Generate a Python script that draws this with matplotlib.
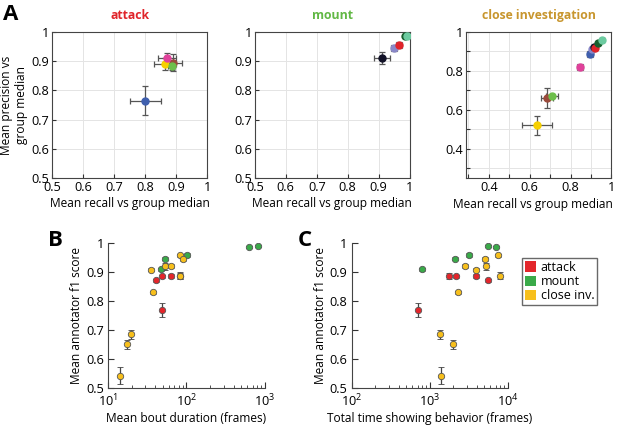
import numpy as np
import matplotlib.pyplot as plt

plt.rcParams['font.family'] = ['Open Sans', 'DejaVu Sans']

# ------------------------------
# Panel A data: recall / precision vs group median (per annotator)
# ------------------------------
ann_colors = ['#3f5fae', '#e0419b', '#f7d000', '#9b4b3c', '#6dbf4b',
              '#121228', '#8a88c8', '#e0242a', '#17602e', '#6ccba0']

atk_rec = [0.80, 0.865, 0.89, 0.885, 0.87]
atk_rec_err = [0.05, 0.035, 0.03, 0.01, 0.03]
atk_prec = [0.765, 0.89, 0.895, 0.885, 0.91]
atk_prec_err = [0.05, 0.02, 0.03, 0.015, 0.018]
atk_col = [0, 2, 3, 4, 1]

mnt_rec = [0.91, 0.95, 0.965, 0.985, 0.99]
mnt_rec_err = [0.025, 0.01, 0.01, 0.005, 0.005]
mnt_prec = [0.91, 0.945, 0.955, 0.985, 0.985]
mnt_prec_err = [0.02, 0.01, 0.01, 0.003, 0.003]
mnt_col = [5, 6, 7, 8, 9]

ci_rec = [0.635, 0.685, 0.71, 0.845, 0.895, 0.905, 0.915, 0.92, 0.935, 0.955]
ci_rec_err = [0.075, 0.03, 0.03, 0.015, 0.015, 0.01, 0.01, 0.01, 0.008, 0.008]
ci_prec = [0.52, 0.66, 0.67, 0.82, 0.885, 0.91, 0.925, 0.92, 0.945, 0.96]
ci_prec_err = [0.05, 0.05, 0.01, 0.015, 0.015, 0.01, 0.01, 0.01, 0.008, 0.008]
ci_col = [2, 3, 4, 1, 0, 6, 5, 7, 8, 9]

# ------------------------------
# Panel B/C data: annotator f1 vs bout duration / total time
# ------------------------------
beh_names = ['attack', 'mount', 'close inv.']
beh_colors = ['#e3262b', '#3aaa49', '#f7bf1c']

atk_f1 = [0.769, 0.872, 0.886, 0.887, 0.887]
atk_f1_err = [0.025, 0.006, 0.006, 0.006, 0.012]
atk_bout = [49, 41, 49, 64, 84]
atk_total = [716, 5650, 2190, 3970, 1770]

mnt_f1 = [0.91, 0.947, 0.96, 0.987, 0.99]
mnt_f1_err = [0.006, 0.006, 0.006, 0.003, 0.003]
mnt_bout = [48, 53.5, 102, 630, 830]
mnt_total = [806, 2090, 3160, 7050, 5500]

ci_f1 = [0.543, 0.651, 0.686, 0.83, 0.909, 0.92, 0.922, 0.888, 0.958, 0.945]
ci_f1_err = [0.03, 0.015, 0.015, 0.006, 0.006, 0.012, 0.006, 0.012, 0.006, 0.006]
ci_bout = [14.1, 17.3, 19.9, 38, 35, 54, 63.6, 82, 84, 90]
ci_total = [1397, 1990, 1350, 2300, 3970, 5250, 2830, 7900, 7600, 5050]

fig = plt.figure(figsize=(6.17, 4.26), dpi=100)

fs_lab = 8.6
fs_tick = 9.2

# ------------------------------
# Panel A
# ------------------------------
pannelli_a = [
    ([0.084, 0.582, 0.252, 0.343], 'attack', '#e0242a',
     atk_rec, atk_rec_err, atk_prec, atk_prec_err, atk_col, (0.5, 1), (0.5, 1)),
    ([0.413, 0.582, 0.251, 0.343], 'mount', '#62b845',
     mnt_rec, mnt_rec_err, mnt_prec, mnt_prec_err, mnt_col, (0.5, 1), (0.5, 1)),
    ([0.755, 0.582, 0.236, 0.343], 'close investigation', '#c8962e',
     ci_rec, ci_rec_err, ci_prec, ci_prec_err, ci_col, (0.287, 1), (0.25, 1)),
]

for i, (pos, titolo, col_tit, rx, rxe, py, pye, cols, xl, yl) in enumerate(pannelli_a):
    ax = fig.add_axes(pos)
    for k in range(len(rx)):
        ax.errorbar(rx[k], py[k], xerr=rxe[k], yerr=pye[k], fmt='o',
                    color=ann_colors[cols[k]], ecolor='#555555', elinewidth=0.9,
                    capsize=2, capthick=0.9, markersize=5, zorder=3)
    ax.set_xlim(xl)
    ax.set_ylim(yl)
    if i < 2:
        ax.set_xticks(np.arange(0.5, 1.01, 0.1))
        ax.set_xticklabels(['0.5', '0.6', '0.7', '0.8', '0.9', '1'])
        ax.set_yticks(np.arange(0.5, 1.01, 0.1))
        ax.set_yticklabels(['0.5', '0.6', '0.7', '0.8', '0.9', '1'])
    else:
        ticks = np.arange(0.3, 1.01, 0.1)
        ax.set_xticks(ticks)
        ax.set_xticklabels(['', '0.4', '', '0.6', '', '0.8', '', '1'])
        ticks_y = np.arange(0.3, 1.01, 0.1)
        ax.set_yticks(ticks_y)
        ax.set_yticklabels(['', '0.4', '', '0.6', '', '0.8', '', '1'])
    ax.grid(True, color='#e4e4e4', linewidth=0.7)
    ax.set_axisbelow(True)
    ax.tick_params(direction='in', length=3, labelsize=fs_tick, color='#333333', pad=2)
    for s in ax.spines.values():
        s.set_color('#444444')
        s.set_linewidth(0.8)
    ax.set_title(titolo, color=col_tit, fontsize=8.8, fontweight='bold', pad=9)
    ax.set_xlabel('Mean recall vs group median', fontsize=fs_lab, labelpad=2)
    if i == 0:
        ax.set_ylabel('Mean precision vs\ngroup median', fontsize=fs_lab, labelpad=2)
    if i == 2:
        ax.xaxis.set_label_coords(0.46, -0.135)

fig.text(0.005, 0.99, 'A', fontsize=16, fontweight='bold', va='top')

# ------------------------------
# Panel B and C
# ------------------------------
gruppi = [
    (atk_f1, atk_f1_err, atk_bout, atk_total),
    (mnt_f1, mnt_f1_err, mnt_bout, mnt_total),
    (ci_f1, ci_f1_err, ci_bout, ci_total),
]

pannelli_bc = [
    ([0.175, 0.089, 0.254, 0.340], 2, (10, 1000), 'Mean bout duration (frames)'),
    ([0.570, 0.089, 0.253, 0.340], 3, (100, 10000), 'Total time showing behavior (frames)'),
]

for pos, idx, xl, xlab in pannelli_bc:
    ax = fig.add_axes(pos)
    for g, (f1, f1e, bout, tot) in enumerate(gruppi):
        xs = bout if idx == 2 else tot
        ax.errorbar(xs, f1, yerr=f1e, fmt='o', color=beh_colors[g],
                    markeredgecolor='#555555', markeredgewidth=0.6,
                    ecolor='#444444', elinewidth=0.9, capsize=2, capthick=0.9,
                    markersize=4.6, zorder=3)
    ax.set_xscale('log')
    ax.set_xlim(xl)
    ax.set_ylim(0.5, 1)
    ax.set_yticks(np.arange(0.5, 1.01, 0.1))
    ax.set_yticklabels(['0.5', '0.6', '0.7', '0.8', '0.9', '1'])
    ax.spines['top'].set_visible(False)
    ax.spines['right'].set_visible(False)
    for s in ['left', 'bottom']:
        ax.spines[s].set_color('#444444')
        ax.spines[s].set_linewidth(0.8)
    ax.tick_params(which='both', direction='in', labelsize=fs_tick, color='#333333', pad=3)
    ax.tick_params(which='major', length=4)
    ax.tick_params(which='minor', length=2.5)
    ax.set_xlabel(xlab, fontsize=fs_lab, labelpad=2)
    ax.set_ylabel('Mean annotator f1 score', fontsize=fs_lab, labelpad=2)

    if idx == 3:
        maniglie = [plt.Rectangle((0, 0), 1, 1, facecolor=c, edgecolor='none')
                    for c in beh_colors]
        ax.legend(maniglie, beh_names, loc='upper left',
                  bbox_to_anchor=(1.09, 0.9), fontsize=fs_lab + 0.4, frameon=True,
                  fancybox=False, edgecolor='#444444', handlelength=0.9,
                  handleheight=0.9, handletextpad=0.35, borderpad=0.25,
                  labelspacing=0.1, borderaxespad=0)

fig.text(0.078, 0.46, 'B', fontsize=16, fontweight='bold', va='top')
fig.text(0.483, 0.46, 'C', fontsize=16, fontweight='bold', va='top')

plt.savefig('out.png', dpi=100)
